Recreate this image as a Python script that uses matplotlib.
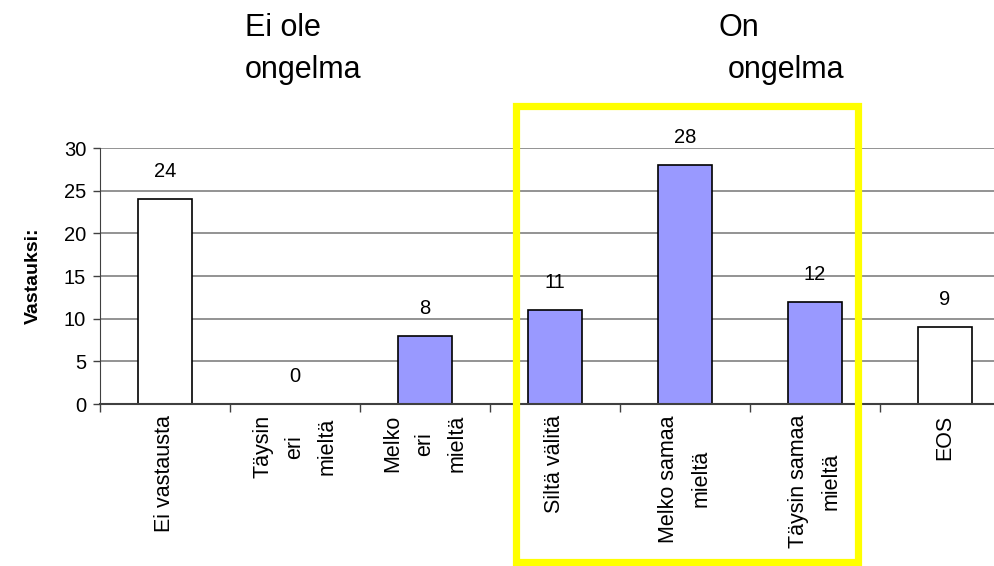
import matplotlib.pyplot as plt
from matplotlib.patches import Rectangle

plt.rcParams['font.family'] = ['Liberation Sans', 'DejaVu Sans']

categories = ['Ei vastausta', 'Täysin\neri\nmieltä', 'Melko\neri\nmieltä', 'Siltä välitä',
              'Melko samaa\nmieltä', 'Täysin samaa\nmieltä', 'EOS']
values = [24, 0, 8, 11, 28, 12, 9]
colors = ['white', '#9999FF', '#9999FF', '#9999FF', '#9999FF', '#9999FF', 'white']
yticks = [0, 5, 10, 15, 20, 25, 30]

fig = plt.figure(figsize=(9.94, 5.66), dpi=100)
ax = fig.add_axes([100 / 994, 162 / 566, 910 / 994, 256 / 566])

x = list(range(len(categories)))
ax.bar(x, values, width=0.415, color=colors, edgecolor='black', linewidth=1.2, zorder=3)
for xi, v in zip(x, values):
    ax.text(xi, v + 2.1, str(v), ha='center', va='bottom', fontsize=14.5)

ax.set_xlim(-0.5, 6.5)
ax.set_ylim(0, 30)
ax.set_yticks(yticks)
ax.tick_params(axis='y', labelsize=14.5, length=5, width=1, color='#404040', pad=5)
ax.yaxis.grid(True, color='#808080', linewidth=1.2, zorder=0)
ax.set_axisbelow(True)

ax.set_xticks(x)
ax.set_xticklabels([])
ax.tick_params(axis='x', which='major', length=0)
ax.set_xticks([i - 0.5 for i in range(len(categories) + 1)], minor=True)
ax.tick_params(axis='x', which='minor', length=6, width=1, color='#404040')
for xi, lab in zip(x, categories):
    ax.text(xi, -1.3, lab, rotation=90, ha='center', va='top', fontsize=15.5,
            multialignment='center', linespacing=1.7)

for s in ['top', 'right']:
    ax.spines[s].set_visible(False)
ax.spines['left'].set_color('#404040')
ax.spines['bottom'].set_color('#404040')
ax.spines['bottom'].set_linewidth(1.5)
ax.spines['bottom'].set_zorder(4)

ax.set_ylabel('Vastauksi:', fontsize=14, fontweight='bold', labelpad=16)

fig.text(245 / 994, 1 - 28 / 566, 'Ei ole', fontsize=22, va='center', ha='left')
fig.text(245 / 994, 1 - 70 / 566, 'ongelma', fontsize=22, va='center', ha='left')
fig.text(718 / 994, 1 - 28 / 566, 'On', fontsize=22, va='center', ha='left')
fig.text(728 / 994, 1 - 70 / 566, 'ongelma', fontsize=22, va='center', ha='left')

fig.patches.append(Rectangle((515.5 / 994, 1 - 562 / 566), 342 / 994, 456 / 566,
                             transform=fig.transFigure, fill=False,
                             edgecolor='#FFFF00', linewidth=5.2, zorder=10))

fig.savefig('out.png', dpi=100)
